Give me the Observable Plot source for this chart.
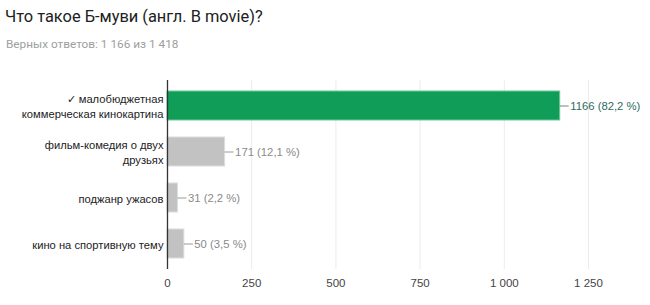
<!DOCTYPE html>
<html><head><meta charset="utf-8">
<script src="https://cdn.jsdelivr.net/npm/d3@7"></script>
<script src="https://cdn.jsdelivr.net/npm/@observablehq/plot@0.6"></script>
<style>
body{margin:0;background:#fff;width:650px;height:305px;overflow:hidden}
#title{position:absolute;left:5px;top:7px;font:16.4px Roboto,"Liberation Sans",Arial,sans-serif;color:#212121}
#sub{position:absolute;left:6px;top:37px;font:11.8px Roboto,"Liberation Sans",Arial,sans-serif;color:#9e9e9e}
#chart{position:absolute;left:0;top:62px}
</style></head><body>
<div id="title">Что такое Б-муви (англ. B movie)?</div>
<div id="sub">Верных ответов: 1 166 из 1 418</div>
<div id="chart"></div>
<script>
const categories = ["✓ малобюджетная\nкоммерческая кинокартина", "фильм-комедия о двух\nдрузьях", "поджанр ужасов", "кино на спортивную тему"];
const counts = [1166, 171, 31, 50];
const percents = ["82,2", "12,1", "2,2", "3,5"];
const correct = [true, false, false, false];
const xTicks = [0, 250, 500, 750, 1000, 1250];

const data = categories.map((c, i) => ({cat: c, v: counts[i], p: percents[i], ok: correct[i]}));
const fmt = d => d3.format(",")(d).replace(/,/g, " ");

const chart = Plot.plot({
  width: 650, height: 240,
  marginLeft: 167, marginRight: 62, marginTop: 18, marginBottom: 33,
  style: {fontFamily: "'Liberation Sans', Arial, sans-serif", fontSize: "12px", color: "#444"},
  x: {domain: [0, 1250], ticks: xTicks, tickFormat: fmt, tickSize: 0, tickPadding: 9, label: null},
  y: {domain: categories, paddingInner: 0.36, paddingOuter: 0.2, label: null, tickSize: 0, tickPadding: 5},
  marks: [
    Plot.gridX(xTicks, {stroke: "#ebebeb", strokeOpacity: 1}),
    Plot.ruleY([0], {frameAnchor: "bottom", stroke: "#ebebeb"}),
    Plot.barX(data, {x: "v", y: "cat", fill: d => d.ok ? "#0f9d58" : "#c2c2c2", stroke: d => d.ok ? "#6fc89a" : "#dcdcdc", strokeWidth: 1}),
    Plot.ruleY(data, {y: "cat", x1: "v", x2: "v", insetRight: -9, stroke: d => d.ok ? "#6a8a83" : "#9a9a9a", strokeWidth: 1}),
    Plot.text(data, {y: "cat", x: "v", text: d => `${d.v} (${d.p} %)`, dx: 10, textAnchor: "start", fill: d => d.ok ? "#2f6b5f" : "#8a8a8a", fontSize: 11.3}),
    Plot.ruleX([0], {stroke: "#333", strokeWidth: 1.3}),
    Plot.axisY({tickSize: 0, tickPadding: 4, fill: "#222", fontSize: 11.2, lineHeight: 1.35}),
    Plot.axisX(xTicks, {tickFormat: fmt, tickSize: 0, tickPadding: 9, fill: "#444", fontSize: 11.5})
  ]
});
document.getElementById("chart").appendChild(chart);
</script>
</body></html>
